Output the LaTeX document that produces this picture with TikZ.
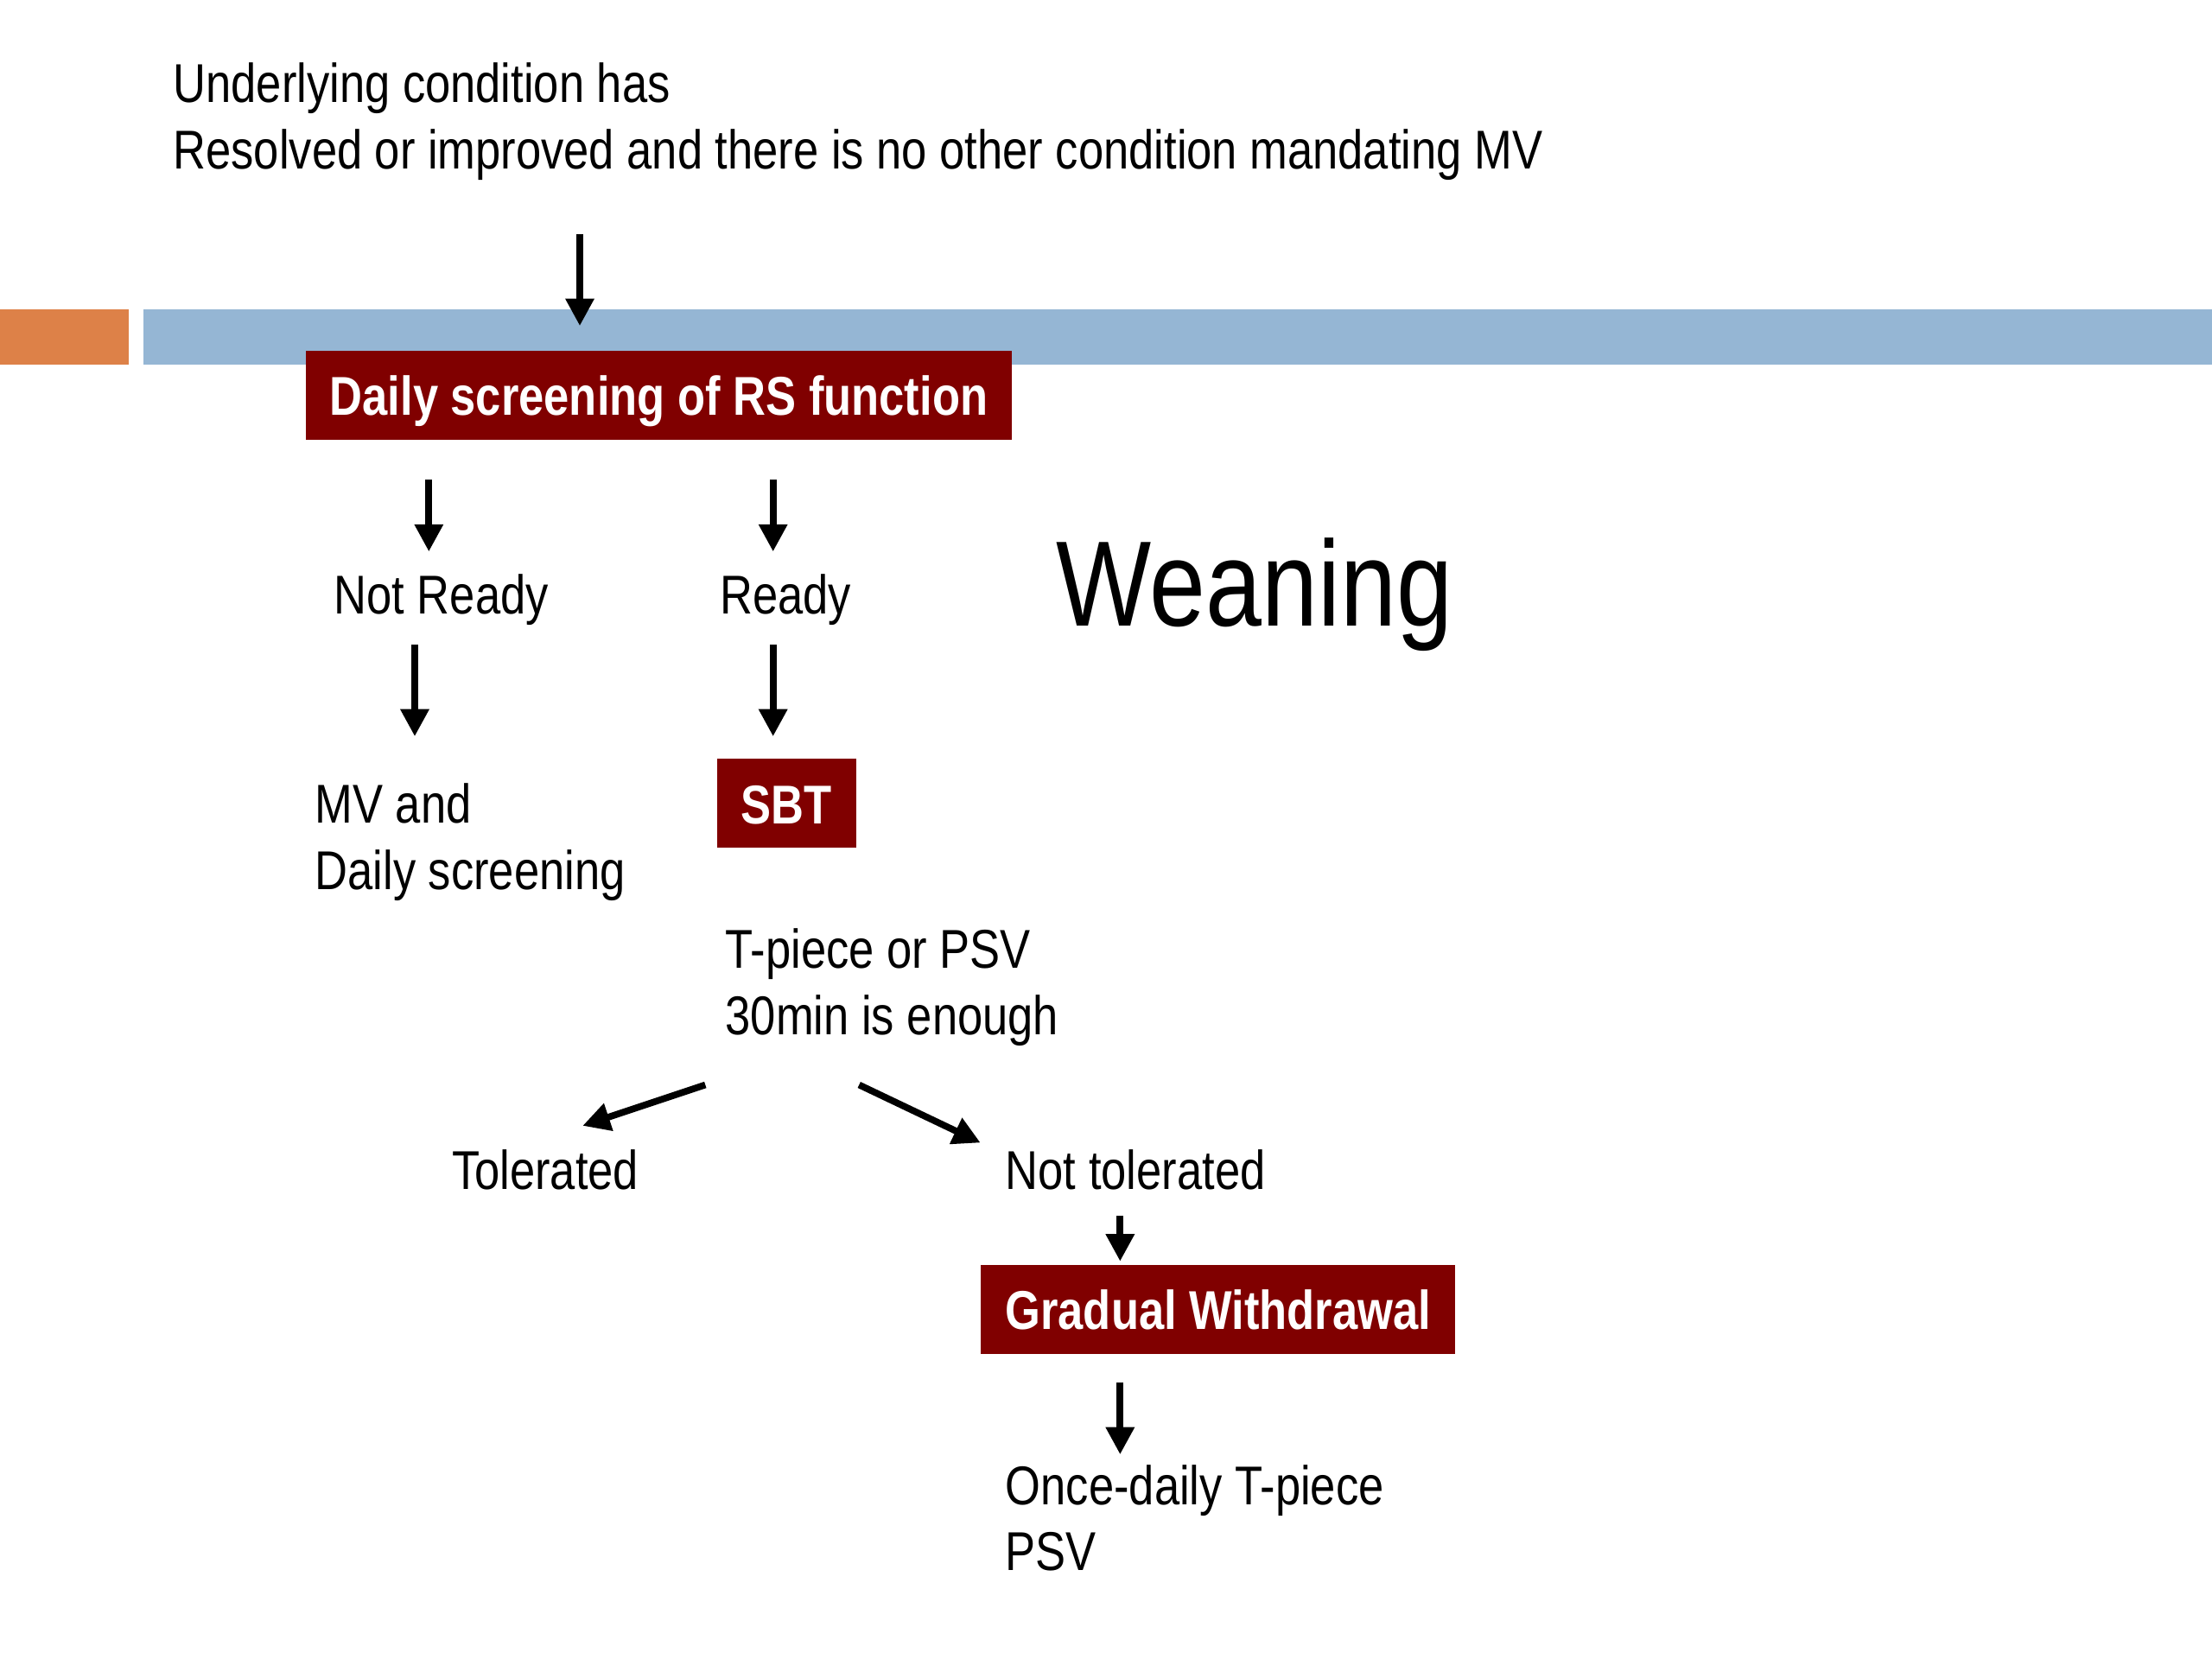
\documentclass[tikz,border=0pt]{standalone}
\usepackage{fontspec}
\setmainfont[FakeStretch=0.83]{Liberation Sans}
\usetikzlibrary{arrows.meta}

\definecolor{boxred}{RGB}{128,0,0}
\definecolor{barblue}{RGB}{149,182,212}
\definecolor{barorange}{RGB}{221,129,72}

\begin{document}
\begin{tikzpicture}[x=0.016327cm,y=-0.016327cm,
                    >={Triangle[length=9pt,width=9pt]},line width=2.2pt,
                    every node/.style={font=\fontsize{18}{21.8}\selectfont,inner sep=0pt},
                    txt/.style={anchor=base west,align=left},
                    redbox/.style={fill=boxred,text=white,inner xsep=8pt,
                      text height=13.1pt,text depth=0pt,
                      minimum height=29.3pt,font=\fontsize{18}{21.8}\selectfont\bfseries}]
  \useasboundingbox (0,0) rectangle (1568,1176);
  %\fill[white] (0,0) rectangle (1568,1176);

  % title bar
  \fill[barorange] (0,219) rectangle (91.5,258.5);
  \fill[barblue] (101.6,219) rectangle (1568,258.5);

  % base of a two-line node = last line
  \node[txt]    (cond)     at (120.5,119.5) {Underlying condition has\\Resolved or improved and there is no other condition mandating MV};
  \node[redbox] (screen)   at (467,280.5)  {Daily screening of RS function};
  \node[txt]    (notready) at (234.5,435)  {Not Ready};
  \node[txt]    (ready)    at (508,435)    {Ready};
  \node[txt,font=\fontsize{40}{46}\selectfont] (wean) at (746.5,444) {Weaning};
  \node[txt]    (mv)       at (221,630.5)  {MV and\\Daily screening};
  \node[redbox] (sbt)      at (557.6,569.6) {SBT};
  \node[txt]    (piece)    at (512,733.5)  {T-piece or PSV\\30min is enough};
  \node[txt]    (tol)      at (318,843)    {Tolerated};
  \node[txt]    (nottol)   at (710.5,843)  {Not tolerated};
  \node[redbox] (grad)     at (863.5,928)  {Gradual Withdrawal};
  \node[txt]    (oncedaily) at (710.5,1113.5) {Once-daily T-piece\\PSV};

  % arrow ends
  \coordinate (condS)  at (411,166);  \coordinate (condE)  at (411,231);
  \coordinate (nrS)    at (304,340);  \coordinate (nrE)    at (304,391);
  \coordinate (rdS)    at (548,340);  \coordinate (rdE)    at (548,391);
  \coordinate (mvS)    at (294,457);  \coordinate (mvE)    at (294,522);
  \coordinate (sbtS)   at (548,457);  \coordinate (sbtE)   at (548,522);
  \coordinate (tolS)   at (500,769);  \coordinate (tolE)   at (413,798);
  \coordinate (ntS)    at (609,769);  \coordinate (ntE)    at (695,810);
  \coordinate (gradS)  at (794,862);
  \coordinate (onceS)  at (794,980);  \coordinate (onceE)  at (794,1031);

  \path[->] (condS) edge (condE)
            (nrS)   edge (nrE)
            (rdS)   edge (rdE)
            (mvS)   edge (mvE)
            (sbtS)  edge (sbtE)
            (tolS)  edge (tolE)
            (ntS)   edge (ntE)
            (gradS) edge (gradS |- grad.north)
            (onceS) edge (onceE);
\end{tikzpicture}
\end{document}
